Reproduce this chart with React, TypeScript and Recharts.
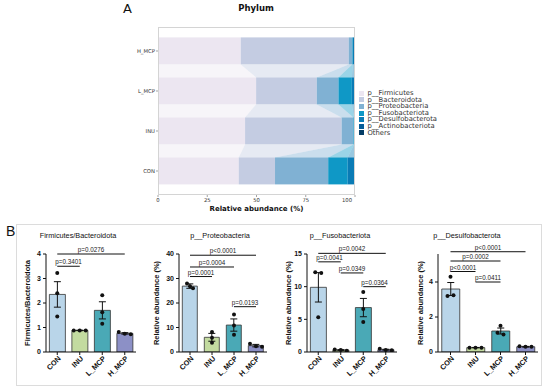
import React from 'react';
import {
  Bar,
  BarChart,
  Cell,
  ComposedChart,
  ErrorBar,
  Label,
  ReferenceLine,
  Scatter,
  XAxis,
  YAxis,
} from 'recharts';

// ---------- panel A: phylum composition ----------
const phylumGroups = ['H_MCP', 'L_MCP', 'INU', 'CON'];
const firmicutes = [42.0, 49.8, 44.2, 41.0];
const bacteroidota = [54.8, 30.8, 49.0, 18.4];
const proteobacteria = [1.8, 11.0, 6.0, 27.0];
const fusobacteriota = [0.3, 6.8, 0.3, 9.9];
const desulfobacterota = [0.6, 1.2, 0.25, 3.4];
const actinobacteriota = [0.3, 0.2, 0.15, 0.2];
const others = [0.2, 0.2, 0.1, 0.1];
const phylumTicks = [0, 25, 50, 75, 100];

const phylumSeries = [
  { name: 'p__Firmicutes', values: firmicutes, color: '#ece6f1' },
  { name: 'p__Bacteroidota', values: bacteroidota, color: '#c4cce2' },
  { name: 'p__Proteobacteria', values: proteobacteria, color: '#80b1d3' },
  { name: 'p__Fusobacteriota', values: fusobacteriota, color: '#0f98c6' },
  { name: 'p__Desulfobacterota', values: desulfobacterota, color: '#0a7bb5' },
  { name: 'p__Actinobacteriota', values: actinobacteriota, color: '#065d98' },
  { name: 'Others', values: others, color: '#053d66' },
];

// ---------- panel B: group statistics ----------
const groups = ['CON', 'INU', 'L_MCP', 'H_MCP'];
const groupColors = ['#b9d5e9', '#c3dba0', '#4aa9b6', '#8c90c6'];

const fbMean = [2.35, 0.88, 1.7, 0.76];
const fbSem = [0.52, 0.01, 0.35, 0.03];
const fbPoints = [[3.22, 2.4, 1.45], [0.88, 0.88, 0.88], [2.32, 1.62, 1.15], [0.82, 0.74, 0.72]];
const fbTicks = [0, 1, 2, 3, 4];
const fbComparisons = [
  { from: 'CON', to: 'INU', level: 3.5, text: 'p=0.3401' },
  { from: 'CON', to: 'H_MCP', level: 4.0, text: 'p=0.0276' },
];

const proteoMean = [26.9, 6.0, 11.0, 2.6];
const proteoSem = [0.9, 1.6, 2.5, 0.5];
const proteoPoints = [[28.0, 26.8, 26.0], [8.2, 5.8, 3.8], [15.3, 10.8, 7.0], [3.4, 2.3, 2.1]];
const proteoTicks = [0, 10, 20, 30, 40];
const proteoComparisons = [
  { from: 'CON', to: 'H_MCP', level: 39.5, text: 'p<0.0001' },
  { from: 'CON', to: 'L_MCP', level: 34.7, text: 'p=0.0004' },
  { from: 'CON', to: 'INU', level: 30.8, text: 'p=0.0001' },
  { from: 'L_MCP', to: 'H_MCP', level: 18.5, text: 'p=0.0193' },
];

const fusoMean = [9.9, 0.3, 6.8, 0.35];
const fusoSem = [2.25, 0.06, 1.4, 0.07];
const fusoPoints = [[12.2, 12.1, 5.3], [0.4, 0.3, 0.2], [9.2, 6.6, 4.6], [0.5, 0.3, 0.25]];
const fusoTicks = [0, 5, 10, 15];
const fusoComparisons = [
  { from: 'CON', to: 'H_MCP', level: 15.1, text: 'p=0.0042' },
  { from: 'CON', to: 'INU', level: 13.8, text: 'p=0.0041' },
  { from: 'INU', to: 'L_MCP', level: 12.1, text: 'p=0.0349' },
  { from: 'L_MCP', to: 'H_MCP', level: 10.0, text: 'p=0.0364' },
];

const desulfoMean = [3.6, 0.25, 1.2, 0.3];
const desulfoSem = [0.37, 0.01, 0.17, 0.02];
const desulfoPoints = [[4.3, 3.2, 3.25], [0.25, 0.25, 0.25], [1.5, 1.1, 1.0], [0.33, 0.3, 0.3]];
const desulfoTicks = [0, 2, 4];
const desulfoComparisons = [
  { from: 'CON', to: 'H_MCP', level: 5.73, text: 'p<0.0001' },
  { from: 'CON', to: 'L_MCP', level: 5.2, text: 'p=0.0002' },
  { from: 'CON', to: 'INU', level: 4.6, text: 'p<0.0001' },
  { from: 'INU', to: 'L_MCP', level: 4.0, text: 'p=0.0411' },
];

const FONT_A = '"DejaVu Sans", Verdana, sans-serif';
const FONT_B = '"Liberation Sans", Arial, sans-serif';

// layout of panel A
const A_LEFT = 158;
const A_RIGHT = 355;
const A_TOP = 27;
const A_BOTTOM = 195;
const A_PAD = 4;
const A_CHART_X = 90;
const A_XH = 24;
const A_STEP = (A_BOTTOM - A_TOP - 2 * A_PAD) / phylumGroups.length;

const phylumRows = phylumGroups.map((group, i) => {
  const row: Record<string, any> = { group };
  phylumSeries.forEach((s) => {
    row[s.name] = s.values[i];
  });
  return row;
});

function startOf(row: number, sIdx: number) {
  let total = 0;
  for (let k = 0; k < sIdx; k++) total += phylumSeries[k].values[row];
  return total;
}

// stacked segment + translucent band flowing up to the same phylum of the bar above
function flowShape(sIdx: number) {
  return (props: any) => {
    const { x, y, width, height, payload } = props;
    const s = phylumSeries[sIdx];
    const row = phylumGroups.indexOf(payload.group);
    const val = s.values[row];
    let band = null;
    if (row > 0 && val > 0 && width > 0) {
      const ppu = width / val;
      const start = startOf(row, sIdx);
      const ox = x - start * ppu;
      const upStart = startOf(row - 1, sIdx);
      const upEnd = upStart + s.values[row - 1];
      const gap = A_STEP - height;
      const pts = [
        [ox + start * ppu, y],
        [ox + (start + val) * ppu, y],
        [ox + upEnd * ppu, y - gap],
        [ox + upStart * ppu, y - gap],
      ]
        .map((p) => p.join(','))
        .join(' ');
      band = <polygon points={pts} fill={s.color} fillOpacity={0.42} />;
    }
    return (
      <g>
        {band}
        <rect x={x} y={y} width={width} height={height} fill={s.color} />
      </g>
    );
  };
}

const PhylumTick = (props: any) => {
  const { x, y, payload, textAnchor } = props;
  return (
    <text
      x={x}
      y={y}
      textAnchor={textAnchor}
      dominantBaseline="central"
      fontFamily={FONT_A}
      fontSize={5.3}
      fill="#333"
    >
      {payload.value}
    </text>
  );
};

function PhylumPanel() {
  return (
    <>
      <div style={{ position: 'absolute', left: 123, top: 1, fontFamily: FONT_A, fontSize: 13, color: '#111' }}>A</div>
      <div
        style={{
          position: 'absolute',
          left: 200,
          width: 112,
          top: 3,
          textAlign: 'center',
          fontFamily: FONT_A,
          fontWeight: 700,
          fontSize: 8.5,
          color: '#111',
        }}
      >
        Phylum
      </div>
      <div style={{ position: 'absolute', left: A_CHART_X, top: 0 }}>
        <BarChart
          layout="vertical"
          width={A_RIGHT - A_CHART_X + 4}
          height={A_BOTTOM + A_XH}
          data={phylumRows}
          margin={{ top: A_TOP, right: 4, left: 0, bottom: 0 }}
          barCategoryGap="16%"
        >
          <XAxis
            type="number"
            domain={[0, 100]}
            ticks={phylumTicks}
            height={A_XH}
            axisLine={false}
            tickSize={2}
            tickLine={{ stroke: '#666', strokeWidth: 0.6 }}
            tick={<PhylumTick />}
            tickMargin={3}
            label={
              <Label
                content={(p: any) => {
                  const vb = p.viewBox;
                  return (
                    <text
                      x={vb.x + vb.width / 2}
                      y={vb.y + 16}
                      textAnchor="middle"
                      fontFamily={FONT_A}
                      fontWeight={700}
                      fontSize={7}
                      fill="#111"
                    >
                      Relative abundance (%)
                    </text>
                  );
                }}
              />
            }
          />
          <YAxis
            type="category"
            dataKey="group"
            width={A_LEFT - A_CHART_X}
            padding={{ top: A_PAD, bottom: A_PAD }}
            axisLine={false}
            tickSize={2}
            tickLine={{ stroke: '#666', strokeWidth: 0.6 }}
            tick={<PhylumTick />}
            tickMargin={1}
          />
          {phylumSeries.map((s, i) => (
            <Bar
              key={s.name}
              dataKey={s.name}
              stackId="phylum"
              fill={s.color}
              shape={flowShape(i)}
              isAnimationActive={false}
            />
          ))}
        </BarChart>
      </div>
      <div
        style={{
          position: 'absolute',
          left: A_LEFT,
          top: A_TOP,
          width: A_RIGHT - A_LEFT,
          height: A_BOTTOM - A_TOP,
          border: '1px solid #d4d4d4',
          boxSizing: 'border-box',
          pointerEvents: 'none',
        }}
      />
      <div style={{ position: 'absolute', left: 359, top: 90, fontFamily: FONT_A, fontSize: 6.8, color: '#333' }}>
        {phylumSeries.map((s) => (
          <div key={s.name} style={{ display: 'flex', alignItems: 'center', height: 6.6, lineHeight: '6.6px' }}>
            <span style={{ width: 5, height: 5, background: s.color, marginRight: 3.5, display: 'inline-block' }} />
            <span>{s.name}</span>
          </div>
        ))}
      </div>
    </>
  );
}

// ---------- panel B helpers ----------
const B_TOP = 254;
const B_BOTTOM = 352;
const B_YW = 40;
const B_MT = 30;
const B_MR = 6;
const B_XH = 34;
const DOT_GAP = 6;

// side-by-side offsets for points that would overlap (Prism-style)
function dodge(values: number[], tol: number) {
  return values.map((v, k) => {
    const cluster = values.map((w, j) => j).filter((j) => Math.abs(values[j] - v) < tol);
    const pos = cluster.indexOf(k);
    return (pos - (cluster.length - 1) / 2) * DOT_GAP;
  });
}

const GroupTick = (props: any) => {
  const { x, y, payload } = props;
  const ax = x + 4;
  const ay = y + 2;
  return (
    <g transform={`translate(${ax},${ay})`}>
      <text
        x={0}
        y={0}
        transform="rotate(-45)"
        textAnchor="end"
        fontFamily={FONT_B}
        fontWeight={700}
        fontSize={7.3}
        fill="#111"
      >
        {payload.value}
      </text>
    </g>
  );
};

interface StatSpec {
  title: string;
  yLabel: string;
  means: number[];
  sems: number[];
  points: number[][];
  ticks: number[];
  domain: [number, number];
  comparisons: { from: string; to: string; level: number; text: string }[];
  left: number;
  right: number;
  titleX: number;
  labelGap: number;
}

function StatPanel({ spec }: { spec: StatSpec }) {
  const tol = spec.domain[1] * 0.05;
  const offsets = spec.points.map((pts) => dodge(pts, tol));
  const rows = groups.map((group, i) => ({
    group,
    mean: spec.means[i],
    sem: spec.sems[i],
    p0: spec.points[i][0],
    p1: spec.points[i][1],
    p2: spec.points[i][2],
  }));
  const plotW = spec.right - spec.left;
  const plotH = B_BOTTOM - B_TOP;
  return (
    <>
      <div
        style={{
          position: 'absolute',
          left: spec.titleX - 70,
          width: 140,
          top: 231,
          textAlign: 'center',
          fontFamily: FONT_B,
          fontSize: 7.3,
          color: '#111',
        }}
      >
        {spec.title}
      </div>
      <div style={{ position: 'absolute', left: spec.left - B_YW, top: B_TOP - B_MT }}>
        <ComposedChart
          width={plotW + B_YW + B_MR}
          height={plotH + B_MT + B_XH}
          data={rows}
          margin={{ top: B_MT, right: B_MR, left: 0, bottom: 0 }}
          barCategoryGap="15%"
        >
          <XAxis
            dataKey="group"
            type="category"
            allowDuplicatedCategory={false}
            interval={0}
            height={B_XH}
            tickSize={3}
            axisLine={{ stroke: '#111', strokeWidth: 1 }}
            tickLine={{ stroke: '#111', strokeWidth: 1 }}
            tick={<GroupTick />}
          />
          <YAxis
            type="number"
            domain={spec.domain}
            ticks={spec.ticks}
            allowDataOverflow
            width={B_YW}
            tickSize={3}
            tickMargin={2}
            axisLine={{ stroke: '#111', strokeWidth: 1 }}
            tickLine={{ stroke: '#111', strokeWidth: 1 }}
            tick={{ fontSize: 7, fontWeight: 700, fill: '#111', fontFamily: FONT_B }}
            label={
              <Label
                content={(p: any) => {
                  const vb = p.viewBox;
                  const cx = vb.x + vb.width - spec.labelGap;
                  const cy = vb.y + vb.height / 2;
                  return (
                    <text
                      x={cx}
                      y={cy}
                      transform={`rotate(-90 ${cx} ${cy})`}
                      textAnchor="middle"
                      dominantBaseline="central"
                      fontFamily={FONT_B}
                      fontWeight={700}
                      fontSize={7.5}
                      fill="#111"
                    >
                      {spec.yLabel}
                    </text>
                  );
                }}
              />
            }
          />
          <Bar dataKey="mean" stroke="#333" strokeWidth={0.8} isAnimationActive={false}>
            {groups.map((g, i) => (
              <Cell key={g} fill={groupColors[i]} />
            ))}
            <ErrorBar dataKey="sem" width={3.5} stroke="#111" strokeWidth={1} direction="y" />
          </Bar>
          {[0, 1, 2].map((k) => (
            <Scatter
              key={k}
              dataKey={`p${k}`}
              fill="#111"
              isAnimationActive={false}
              shape={(p: any) => {
                const gi = groups.indexOf(p.payload.group);
                const dx = gi >= 0 ? offsets[gi][k] : 0;
                return <circle cx={p.cx + dx} cy={p.cy} r={2} fill="#111" />;
              }}
            />
          ))}
          {spec.comparisons.map((c) => (
            <ReferenceLine
              key={c.text + c.level}
              segment={[
                { x: c.from, y: c.level },
                { x: c.to, y: c.level },
              ]}
              stroke="#111"
              strokeWidth={1}
              ifOverflow="visible"
              label={{ value: c.text, position: 'top', offset: 2, fontSize: 6.3, fill: '#222', fontFamily: FONT_B }}
            />
          ))}
        </ComposedChart>
      </div>
    </>
  );
}

const statSpecs: StatSpec[] = [
  {
    title: 'Firmicutes/Bacteroidota',
    yLabel: 'Firmicutes/Bacteroidota',
    means: fbMean,
    sems: fbSem,
    points: fbPoints,
    ticks: fbTicks,
    domain: [0, 4],
    comparisons: fbComparisons,
    left: 46,
    right: 136,
    titleX: 78,
    labelGap: 19,
  },
  {
    title: 'p__Proteobacteria',
    yLabel: 'Relative abundance (%)',
    means: proteoMean,
    sems: proteoSem,
    points: proteoPoints,
    ticks: proteoTicks,
    domain: [0, 40],
    comparisons: proteoComparisons,
    left: 179,
    right: 267,
    titleX: 220,
    labelGap: 23,
  },
  {
    title: 'p__Fusobacteriota',
    yLabel: 'Relative abundance (%)',
    means: fusoMean,
    sems: fusoSem,
    points: fusoPoints,
    ticks: fusoTicks,
    domain: [0, 15],
    comparisons: fusoComparisons,
    left: 307,
    right: 397,
    titleX: 340,
    labelGap: 19,
  },
  {
    title: 'p__Desulfobacterota',
    yLabel: 'Relative abundance (%)',
    means: desulfoMean,
    sems: desulfoSem,
    points: desulfoPoints,
    ticks: desulfoTicks,
    domain: [0, 5.6],
    comparisons: desulfoComparisons,
    left: 438,
    right: 538,
    titleX: 467,
    labelGap: 18,
  },
];

export default function App() {
  return (
    <div
      style={{
        position: 'absolute',
        left: 0,
        top: 0,
        width: 550,
        height: 391,
        background: '#fff',
        overflow: 'hidden',
      }}
    >
      <PhylumPanel />
      <div style={{ position: 'absolute', left: 6, top: 223, fontFamily: FONT_B, fontSize: 14, color: '#111' }}>B</div>
      <div
        style={{
          position: 'absolute',
          left: 16,
          top: 224,
          width: 526,
          height: 162,
          border: '1px solid #dcdcdc',
          boxSizing: 'border-box',
        }}
      />
      {statSpecs.map((spec) => (
        <StatPanel key={spec.title} spec={spec} />
      ))}
    </div>
  );
}
